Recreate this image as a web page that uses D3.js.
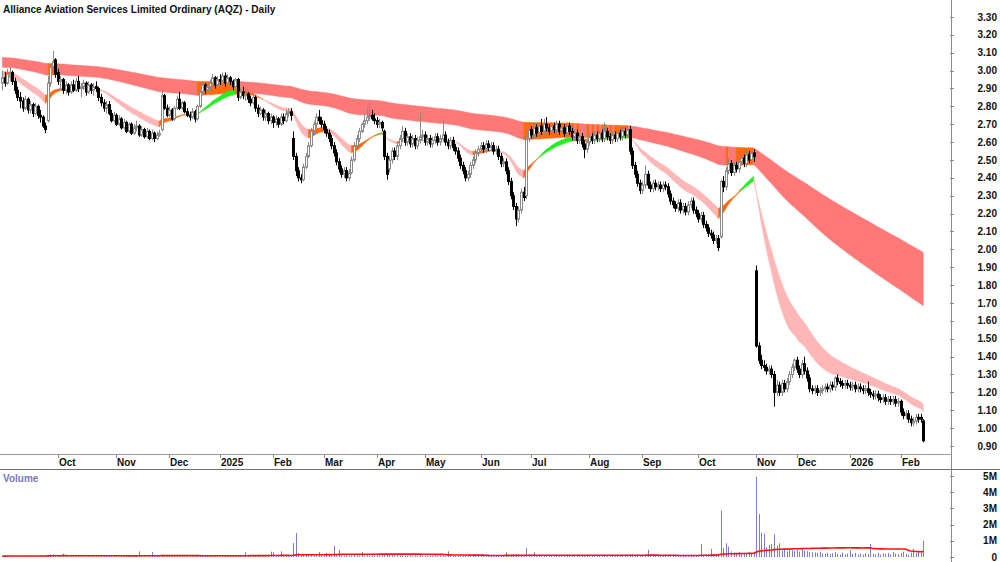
<!DOCTYPE html>
<html>
<head>
<meta charset="utf-8">
<script src="https://cdn.jsdelivr.net/npm/d3@7"></script>
<style>
body { margin: 0; background: #fff; }
svg { display: block; font-family: "Liberation Sans", Arial, sans-serif; }
</style>
</head>
<body>
<svg id="chart" width="1000" height="562"></svg>
<script>
var title = 'Alliance Aviation Services Limited Ordinary (AQZ) - Daily';

// trading calendar
var firstDay = '2024-08-30';
var lastDay = '2026-02-13';
var holidays = ['2024-12-25', '2024-12-26', '2025-01-01', '2025-01-27', '2025-04-18', '2025-04-21',
    '2025-04-25', '2025-06-09', '2025-12-25', '2025-12-26', '2026-01-01', '2026-01-26'];
var suspended = ['2025-11-03', '2025-11-04', '2025-11-05', '2025-11-06'];

var priceTicks = [0.9, 1.0, 1.1, 1.2, 1.3, 1.4, 1.5, 1.6, 1.7, 1.8, 1.9, 2.0, 2.1, 2.2, 2.3, 2.4, 2.5,
    2.6, 2.7, 2.8, 2.9, 3.0, 3.1, 3.2, 3.3];
var volumeTicks = [0, 1e6, 2e6, 3e6, 4e6, 5e6];
var volumeTickLabels = ['0', '1M', '2M', '3M', '4M', '5M'];

// daily bars, cents: open, high, low, close
var ohlc = [
[293,300,289,296],[296,299,291,293],[293,301,292,298],[298,302,294,299],[299,300,292,294],
[294,296,287,289],[289,291,283,285],[285,288,279,283],[283,285,277,279],[279,286,278,284],
[284,285,276,278],[278,283,276,281],[281,282,274,276],[276,282,275,280],[280,281,273,275],
[275,278,271,274],[274,275,268,269],[269,271,265,267],[272,297,271,293],[293,303,291,302],
[302,311,299,305],[306,307,296,298],[299,301,292,294],[294,297,289,295],[295,296,287,289],
[289,294,287,292],[292,293,286,288],[288,294,287,292],[292,295,288,289],[289,296,288,294],
[294,297,288,290],[290,293,285,291],[291,295,289,293],[293,294,286,288],[288,294,287,292],
[292,293,287,289],[289,293,286,291],[291,294,288,290],[290,291,283,285],[285,287,280,282],
[282,284,277,279],[279,283,276,281],[281,283,275,276],[276,278,271,272],[272,277,271,275],
[275,276,269,270],[270,275,269,273],[273,274,267,268],[268,273,267,271],[271,272,265,266],
[266,271,265,270],[270,271,264,265],[265,270,264,268],[268,272,266,269],[269,270,263,264],
[264,269,263,267],[267,268,262,263],[263,268,262,266],[266,267,261,262],[262,267,261,265],
[265,266,260,262],[262,266,261,264],[264,267,263,265],[267,289,266,286],[286,287,278,279],
[279,281,274,275],[275,280,274,278],[278,279,272,273],[273,280,272,279],[279,286,278,284],
[284,288,278,279],[279,283,278,282],[282,283,276,277],[277,279,274,275],[275,277,272,274],
[274,279,273,277],[277,278,271,273],[273,281,272,280],[280,289,279,288],[288,294,286,292],
[292,293,287,289],[289,292,287,291],[291,295,289,293],[293,298,292,296],[296,297,290,292],
[292,297,291,295],[295,298,292,294],[294,299,293,297],[297,299,291,293],[293,298,292,296],
[296,297,292,294],[294,295,289,291],[291,296,290,295],[295,296,283,285],[285,290,284,288],
[288,291,284,286],[286,290,283,287],[287,288,282,284],[284,286,280,282],[282,287,281,285],
[285,286,277,279],[279,281,274,276],[276,280,275,278],[278,279,272,274],[274,278,272,276],
[276,277,270,272],[272,276,270,274],[274,275,268,271],[271,275,269,273],[273,274,268,270],
[270,276,269,274],[274,276,270,272],[272,278,271,276],[276,279,274,277],[277,279,272,275],
[262,266,250,252],[252,254,241,244],[244,246,238,240],[240,242,237,239],[239,248,238,246],
[246,254,245,252],[252,260,251,258],[258,268,257,266],[266,272,264,270],[270,276,268,274],
[274,278,270,272],[272,274,268,270],[270,272,265,267],[267,269,263,265],[265,267,260,262],
[262,264,256,258],[258,260,252,254],[254,256,247,249],[249,251,243,245],[245,247,240,242],
[242,246,240,244],[244,246,238,240],[240,245,238,243],[243,252,242,250],[250,260,249,258],
[258,264,256,262],[262,268,260,266],[266,271,265,270],[270,275,268,272],[272,279,270,274],
[274,282,272,275],[275,278,272,273],[273,276,270,272],[272,274,268,270],[270,273,268,271],
[271,272,266,268],[266,267,250,252],[252,254,239,242],[245,252,243,250],[250,257,248,255],
[255,257,250,252],[252,260,250,258],[258,264,256,262],[262,269,260,266],[266,268,258,260],
[260,265,258,263],[263,265,257,259],[259,264,257,262],[262,264,256,258],[258,263,256,261],
[261,276,259,263],[263,267,261,264],[264,266,258,260],[260,264,258,262],[262,264,257,259],
[259,263,257,261],[261,265,259,263],[263,265,258,260],[260,264,258,262],[262,272,260,264],
[264,266,258,260],[260,262,256,258],[258,263,256,261],[261,263,255,257],[257,259,253,255],
[255,257,249,251],[251,253,245,247],[247,249,242,244],[244,246,238,240],[240,244,238,242],
[242,249,240,247],[247,252,245,250],[250,256,248,254],[254,258,252,256],[256,260,254,258],
[258,260,254,256],[256,261,254,259],[259,261,255,257],[257,260,255,258],[258,260,253,255],
[255,258,253,256],[256,258,250,252],[252,254,246,248],[248,251,246,249],[249,251,242,244],
[244,246,236,238],[238,240,228,230],[230,232,222,224],[224,226,213,217],[217,224,215,222],
[222,234,220,232],[232,235,227,229],[230,264,228,262],[262,269,260,267],[267,269,262,264],
[264,270,262,268],[268,270,263,265],[265,271,263,269],[269,273,264,266],[266,273,264,270],
[270,274,266,268],[268,270,264,266],[266,271,264,269],[269,271,265,267],[267,272,265,270],
[270,272,264,266],[266,270,264,268],[268,270,263,265],[265,271,263,269],[269,271,264,266],
[266,268,261,263],[263,267,261,265],[265,267,259,261],[261,265,259,263],[263,265,257,259],
[259,261,251,256],[256,262,254,260],[260,265,258,263],[263,265,259,261],[261,266,259,264],
[264,266,260,262],[262,267,260,265],[265,267,260,262],[262,271,260,266],[266,268,261,263],
[263,265,259,261],[261,266,259,264],[264,266,260,262],[262,267,260,265],[265,267,261,263],
[263,268,261,266],[266,268,262,264],[264,269,262,267],[267,269,253,255],[255,257,245,247],
[247,249,240,242],[242,244,235,237],[237,239,231,233],[233,238,231,236],[236,247,234,242],
[242,244,234,236],[236,238,232,234],[234,239,232,237],[237,239,233,235],[235,238,233,236],
[236,238,232,234],[234,238,232,236],[236,238,233,235],[235,237,229,231],[231,233,225,227],
[227,229,223,225],[225,227,221,223],[223,228,221,226],[226,228,220,222],[222,226,220,224],
[224,226,219,221],[221,227,219,225],[225,229,223,227],[227,229,220,222],[222,224,218,220],
[220,222,215,217],[217,221,215,219],[219,221,212,214],[214,216,210,212],[212,214,207,209],
[209,211,206,208],[208,210,203,205],[205,208,203,206],[206,208,199,201],[207,239,206,238],
[238,241,232,235],[235,246,233,244],[244,251,242,248],[248,250,241,243],[243,249,241,247],
[247,249,243,245],[245,251,243,249],[249,253,247,251],[251,253,246,248],[248,255,246,253],
[253,255,248,250],[250,256,248,254],[254,256,249,252],[188,191,145,146],[146,148,136,138],
[138,141,133,135],[135,138,132,134],[134,136,130,132],[132,135,130,133],[133,135,128,130],
[130,132,112,120],[120,127,118,124],[124,126,118,120],[120,127,118,125],[125,127,120,122],
[122,128,120,126],[126,132,124,130],[130,136,128,134],[134,139,132,138],[138,140,131,133],
[133,135,128,130],[130,138,128,136],[136,140,130,132],[132,134,126,128],[128,130,120,122],
[122,124,119,121],[121,124,119,122],[122,124,118,120],[120,123,118,121],[121,124,119,122],
[122,125,120,123],[123,125,120,122],[122,126,120,124],[124,126,121,123],[123,129,121,128],
[128,130,124,126],[126,128,123,125],[125,127,122,124],[124,127,122,125],[125,127,122,124],
[124,126,121,123],[123,126,121,124],[124,126,120,122],[122,125,120,123],[123,125,120,122],
[122,124,119,121],[121,124,119,122],[122,126,118,120],[120,122,117,119],[119,121,116,118],
[118,121,116,119],[119,121,115,117],[117,119,114,116],[116,119,114,117],[117,119,113,115],
[115,118,113,116],[116,118,113,115],[115,118,113,116],[116,118,112,114],[114,117,112,115],
[115,116,107,109],[109,111,105,107],[107,110,105,108],[108,110,103,105],[105,107,101,103],
[103,106,101,104],[104,108,102,106],[106,108,103,105],[106,108,103,105],[104,105,92,93]
];

// daily volume, thousands of shares
var volume = [
60,45,80,55,70,40,90,65,50,75,85,60,45,70,55,95,80,60,120,150,
170,110,80,70,200,60,50,75,45,65,80,55,70,40,60,85,50,65,45,70,
60,80,55,45,70,90,50,65,60,75,55,85,60,70,350,80,65,50,95,300,
70,60,55,140,90,70,60,80,55,65,75,50,60,70,45,85,60,90,110,80,
70,60,85,55,75,60,50,65,70,55,80,60,75,90,70,65,300,60,80,75,
90,70,85,60,75,95,330,300,90,80,350,120,100,85,110,860,1480,250,180,200,
150,130,120,110,100,300,90,80,250,110,90,700,120,450,100,90,110,80,95,120,
100,85,300,90,110,80,95,75,90,85,100,220,180,120,100,90,85,95,80,70,
75,85,70,90,65,110,80,70,65,75,60,80,70,85,95,70,350,80,65,90,
70,85,95,110,80,75,90,70,85,60,75,65,80,70,60,85,75,90,110,300,
120,150,160,180,140,130,110,550,170,120,300,90,100,85,80,95,70,85,75,90,
80,70,85,75,90,65,80,95,70,85,120,90,80,70,85,75,65,80,90,70,
75,85,70,65,80,90,75,70,140,160,120,130,110,100,120,450,90,80,70,85,
75,65,80,70,90,110,85,75,95,80,70,85,100,90,120,110,800,130,150,140,
500,160,180,200,2870,550,850,650,350,280,250,300,220,260,240,280,230,270,4950,2650,
1500,1450,600,750,800,1400,700,850,400,450,350,500,420,380,450,330,480,400,360,320,
300,280,250,330,220,200,260,180,240,300,200,150,280,170,220,400,190,250,160,210,
150,230,180,800,200,170,260,140,220,190,250,160,300,210,180,240,330,200,150,270,
500,230,350,300,1000
];

// moving average groups and their values on the day before the first bar
var shortPeriods = [20, 22, 24, 26, 28, 30];
var shortSeed = [2.96, 2.965, 2.97, 2.98, 2.99, 3.00];
var longPeriods = [140, 160, 180, 200, 220, 240];
var longSeed = [3.02, 3.03, 3.04, 3.05, 3.065, 3.075];
var volumeAvgPeriod = 60;

var W = 1000, H = 562, axisX = 951;
var svg = d3.select('#chart');
var fmt = d3.timeFormat('%Y-%m-%d');

var hol = new Set(holidays.concat(suspended));
var days = d3.timeDay.range(d3.timeParse('%Y-%m-%d')(firstDay), d3.timeDay.offset(d3.timeParse('%Y-%m-%d')(lastDay), 1))
    .filter(function(d){ return d.getDay() > 0 && d.getDay() < 6 && !hol.has(fmt(d)); });
var n = Math.min(days.length, ohlc.length);
var bars = d3.range(n).map(function(i){
    return {i: i, date: days[i], o: ohlc[i][0] / 100, h: ohlc[i][1] / 100, l: ohlc[i][2] / 100, c: ohlc[i][3] / 100, v: volume[i] * 1000};
});

var x = d3.scaleLinear().domain([0, n - 1]).range([2.3, 923.3]);
var y = d3.scaleLinear().domain([0.9, 3.3]).range([446, 17]);
var yv = d3.scaleLinear().domain([0, 5e6]).range([557, 476]);

function emaGroup(periods, seeds){
    return periods.map(function(p, k){
        var a = 2 / (p + 1), e = seeds[k];
        return bars.map(function(b){ e = e + a * (b.c - e); return e; });
    });
}

// colour state: up when the group is stacked bullishly under the close, down when stacked bearishly above it
function bandRuns(group){
    var pts = bars.map(function(b, i){
        var vals = group.map(function(g){ return g[i]; });
        var lo = d3.min(vals), hi = d3.max(vals);
        var asc = true, desc = true;
        for (var k = 0; k < vals.length - 1; k++){
            if (!(vals[k] > vals[k + 1])) asc = false;
            if (!(vals[k] < vals[k + 1])) desc = false;
        }
        var state = (asc && b.c > hi) ? 'up' : (desc && b.c < lo) ? 'down' : 'mixed';
        return {i: i, lo: lo, hi: hi, state: state};
    });
    var runs = [];
    for (var i = 1; i < pts.length; i++){
        var last = runs[runs.length - 1];
        if (last && last.state == pts[i].state) last.pts.push(pts[i]);
        else runs.push({state: pts[i].state, pts: [pts[i - 1], pts[i]]});
    }
    return runs;
}

var area = d3.area()
    .x(function(d){ return x(d.i); })
    .y0(function(d){ return y(d.lo); })
    .y1(function(d){ return y(d.hi); });

var longColors = {down: '#ff7878', mixed: '#ff6a10', up: '#22ee22'};
var shortColors = {down: '#ffb6b6', mixed: '#ff6a10', up: '#22ee22'};

svg.append('g').selectAll('path')
    .data(bandRuns(emaGroup(longPeriods, longSeed)))
    .enter().append('path')
    .attr('d', function(d){ return area(d.pts); })
    .attr('fill', function(d){ return longColors[d.state]; })
    .attr('stroke', function(d){ return longColors[d.state]; })
    .attr('stroke-width', 0.5);

svg.append('g').selectAll('path')
    .data(bandRuns(emaGroup(shortPeriods, shortSeed)))
    .enter().append('path')
    .attr('d', function(d){ return area(d.pts); })
    .attr('fill', function(d){ return shortColors[d.state]; })
    .attr('stroke', function(d){ return shortColors[d.state]; })
    .attr('stroke-width', 0.5);

// candles
var candle = svg.append('g').selectAll('g').data(bars).enter().append('g');
candle.append('line')
    .attr('x1', function(d){ return Math.round(x(d.i)) + 0.5; })
    .attr('x2', function(d){ return Math.round(x(d.i)) + 0.5; })
    .attr('y1', function(d){ return y(d.h); })
    .attr('y2', function(d){ return y(d.l); })
    .attr('stroke', function(d){ return d.c >= d.o ? '#8a8a8a' : '#000'; })
    .attr('stroke-width', 1);
candle.append('rect')
    .attr('x', function(d){ return Math.round(x(d.i)) - 0.5; })
    .attr('width', 2)
    .attr('y', function(d){ return y(Math.max(d.o, d.c)); })
    .attr('height', function(d){ return Math.max(0.5, Math.abs(y(d.o) - y(d.c))); })
    .attr('fill', function(d){ return d.c >= d.o ? '#fff' : '#000'; })
    .attr('stroke', function(d){ return d.c >= d.o ? '#8a8a8a' : '#000'; })
    .attr('stroke-width', 1);

// volume
svg.append('g').selectAll('line').data(bars).enter().append('line')
    .attr('x1', function(d){ return Math.round(x(d.i)) + 0.5; })
    .attr('x2', function(d){ return Math.round(x(d.i)) + 0.5; })
    .attr('y1', yv(0))
    .attr('y2', function(d){ return yv(d.v); })
    .attr('stroke', '#7c7cd0')
    .attr('stroke-width', 1);

var volAvg = bars.map(function(b, i){
    return {i: i, v: d3.mean(bars.slice(Math.max(0, i - volumeAvgPeriod + 1), i + 1), function(d){ return d.v; })};
});
svg.append('path')
    .attr('d', d3.line().x(function(d){ return x(d.i); }).y(function(d){ return yv(d.v); })(volAvg))
    .attr('fill', 'none')
    .attr('stroke', '#ff1010')
    .attr('stroke-width', 1.6);

// frame lines
svg.append('line').attr('x1', axisX + 0.5).attr('x2', axisX + 0.5).attr('y1', 0).attr('y2', H)
    .attr('stroke', '#8c8c8c');
svg.append('line').attr('x1', 0).attr('x2', axisX).attr('y1', 454.5).attr('y2', 454.5)
    .attr('stroke', '#9a9a9a');
svg.append('line').attr('x1', 0).attr('x2', W).attr('y1', 469.5).attr('y2', 469.5)
    .attr('stroke', '#707070');

// price axis
var pa = svg.append('g');
pa.selectAll('line').data(priceTicks).enter().append('line')
    .attr('x1', axisX - 1).attr('x2', axisX + 3)
    .attr('y1', function(d){ return Math.round(y(d)) + 0.5; })
    .attr('y2', function(d){ return Math.round(y(d)) + 0.5; })
    .attr('stroke', '#8c8c8c');
pa.selectAll('text').data(priceTicks).enter().append('text')
    .attr('x', 997).attr('y', function(d){ return y(d); }).attr('dy', '0.35em')
    .attr('text-anchor', 'end')
    .style('font-size', '10px').style('font-weight', 'bold').attr('fill', '#111')
    .text(function(d){ return d.toFixed(2); });

// volume axis
var va = svg.append('g');
va.selectAll('line').data(volumeTicks).enter().append('line')
    .attr('x1', axisX - 1).attr('x2', axisX + 3)
    .attr('y1', function(d){ return Math.round(yv(d)) + 0.5; })
    .attr('y2', function(d){ return Math.round(yv(d)) + 0.5; })
    .attr('stroke', '#8c8c8c');
va.selectAll('text').data(volumeTicks).enter().append('text')
    .attr('x', 997).attr('y', function(d){ return yv(d); }).attr('dy', '0.35em')
    .attr('text-anchor', 'end')
    .style('font-size', '10px').style('font-weight', 'bold').attr('fill', '#111')
    .text(function(d, i){ return volumeTickLabels[i]; });

// month axis
var months = bars.filter(function(b, i){
    return i > 10 && b.date.getMonth() != bars[i - 1].date.getMonth();
});
var ma = svg.append('g');
ma.selectAll('line').data(months).enter().append('line')
    .attr('x1', function(d){ return Math.round(x(d.i)) + 0.5; })
    .attr('x2', function(d){ return Math.round(x(d.i)) + 0.5; })
    .attr('y1', 455).attr('y2', 458)
    .attr('stroke', '#8c8c8c');
ma.selectAll('text').data(months).enter().append('text')
    .attr('x', function(d){ return Math.round(x(d.i)) + 1; })
    .attr('y', 466)
    .style('font-size', '10px').style('font-weight', 'bold').attr('fill', '#111')
    .text(function(d){ return d.date.getMonth() == 0 ? d3.timeFormat('%Y')(d.date) : d3.timeFormat('%b')(d.date); });

svg.append('text').attr('x', 3).attr('y', 13)
    .style('font-size', '10.1px').style('font-weight', 'bold').attr('fill', '#111')
    .text(title);
svg.append('text').attr('x', 3).attr('y', 482)
    .style('font-size', '10px').style('font-weight', 'bold').attr('fill', '#7878be')
    .text('Volume');
</script>
</body>
</html>
